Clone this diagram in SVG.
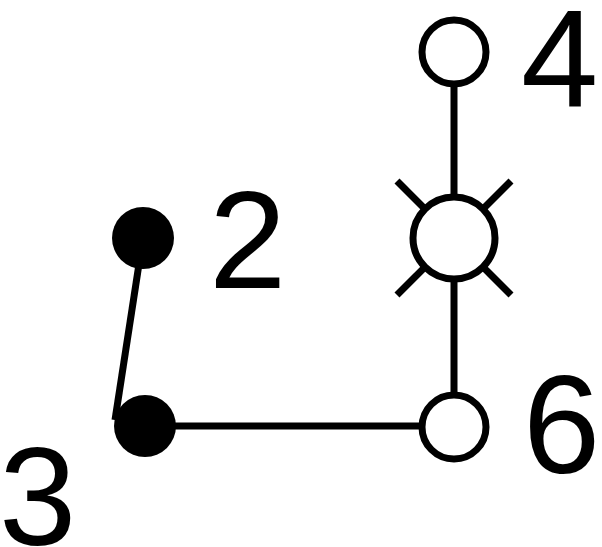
<svg xmlns="http://www.w3.org/2000/svg" width="602" height="547" viewBox="0 0 602 547">
<style>
.lbl{font-family:"Liberation Sans",Arial,sans-serif;font-size:139px;fill:#000}
.edge{stroke:#000;stroke-width:7;fill:none}
.open{fill:#fff;stroke:#000;stroke-width:7}
.solid{fill:#000;stroke:none}
</style>
<rect width="602" height="547" fill="#fff"/>
<g id="connectors">
<line class="edge" x1="454" y1="52" x2="454" y2="426"/>
<line class="edge" x1="144" y1="426" x2="454" y2="426"/>
<line class="edge" x1="143" y1="238" x2="115" y2="420"/>
</g>
<g id="node4">
<circle class="open" cx="454" cy="52" r="32"/>
<text class="lbl" x="521" y="107">4</text>
</g>
<g id="node5">
<line class="edge" x1="397" y1="181" x2="511" y2="295"/>
<line class="edge" x1="511" y1="181" x2="397" y2="295"/>
<circle class="open" cx="454" cy="238" r="41"/>
</g>
<g id="node2">
<circle class="solid" cx="143" cy="238" r="31"/>
<text class="lbl" x="209" y="288">2</text>
</g>
<g id="node3">
<circle class="solid" cx="145" cy="426" r="31"/>
<text class="lbl" x="-1" y="545">3</text>
</g>
<g id="node6">
<circle class="open" cx="454" cy="427" r="32"/>
<text class="lbl" x="523" y="473">6</text>
</g>
</svg>
